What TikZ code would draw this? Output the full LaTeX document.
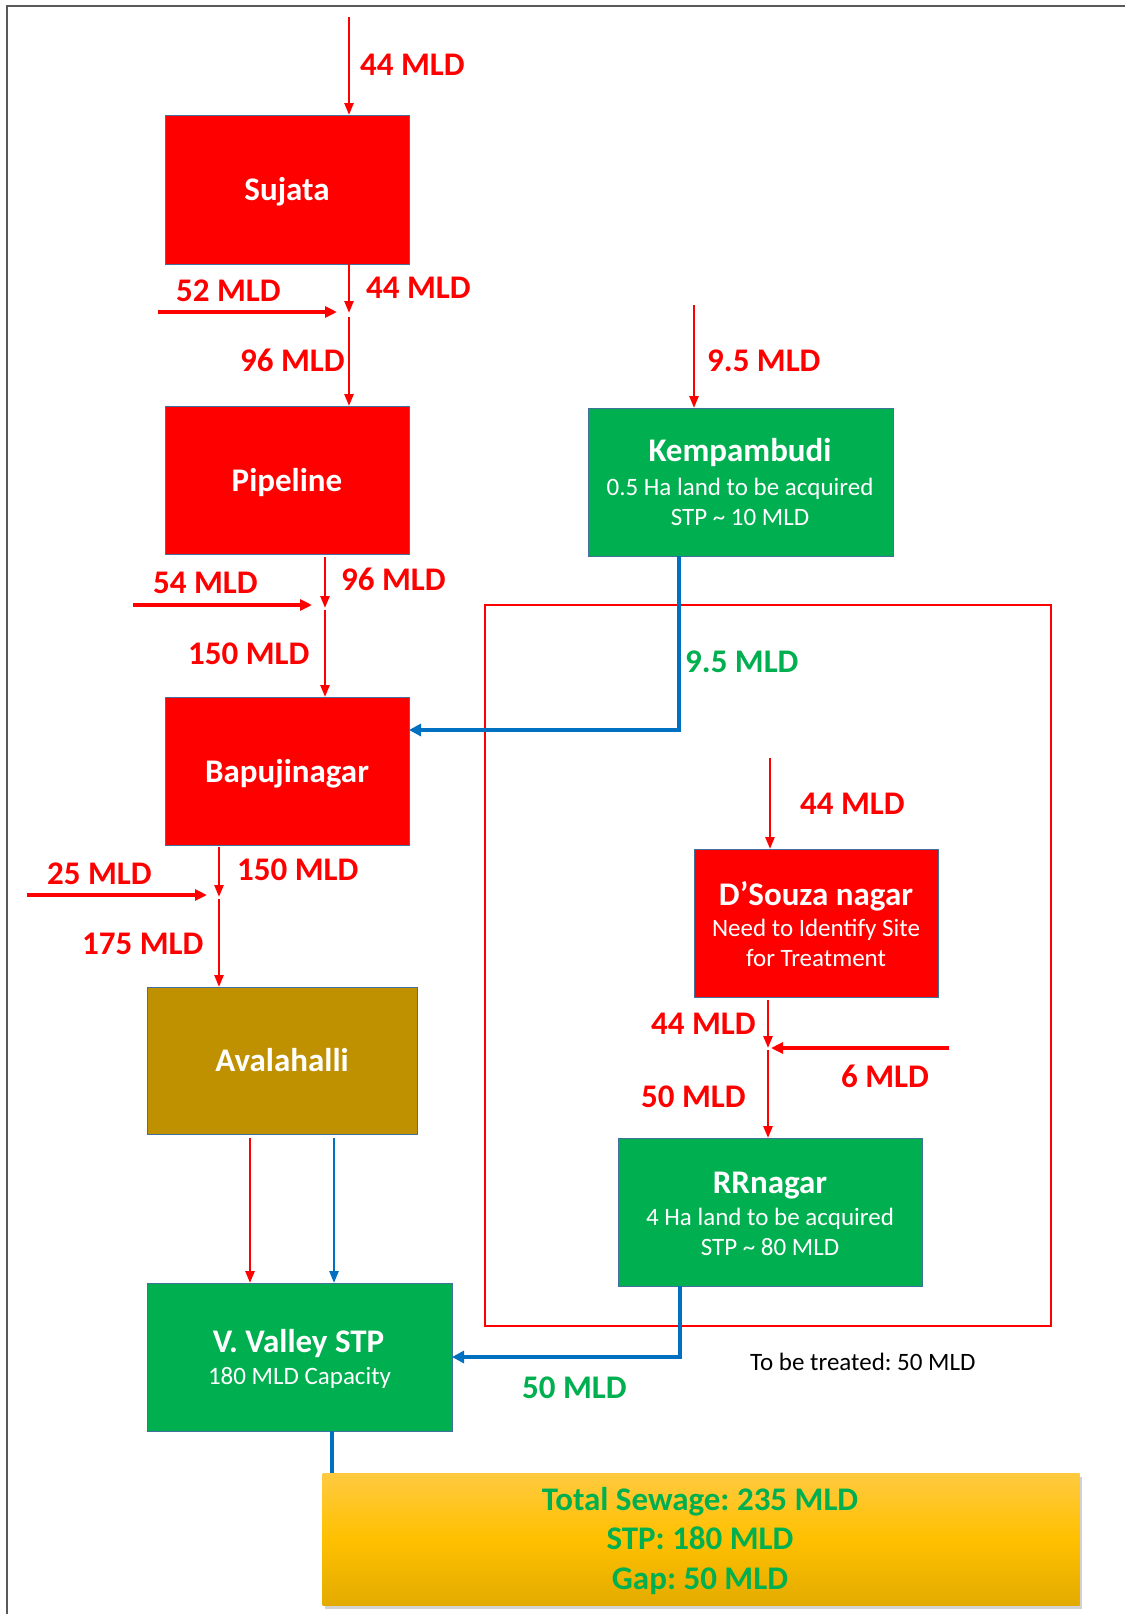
\documentclass[tikz,border=0pt]{standalone}
\usepackage{fontspec}
\setmainfont{Carlito}
\usetikzlibrary{arrows.meta,shadows}
\definecolor{flowred}{HTML}{FF0000}
\definecolor{stpgreen}{HTML}{00B050}
\definecolor{pipeblue}{HTML}{0070C0}
\definecolor{goldbox}{HTML}{BF9000}
\definecolor{boxedge}{HTML}{41719C}
\definecolor{framegray}{HTML}{595959}
\definecolor{sumtop}{HTML}{FFCA40}
\definecolor{summid}{HTML}{FFC000}
\definecolor{sumbot}{HTML}{E3AB00}
\frenchspacing
\begin{document}
\begin{tikzpicture}[x=1pt,y=-1pt,
  box/.style={draw=boxedge, line width=1pt, inner sep=0pt, outer sep=0pt},
  title/.style={font=\fontsize{33}{39}\selectfont\bfseries, text=white, anchor=base, inner sep=0pt},
  sub/.style={font=\fontsize{25}{30}\selectfont, text=white, anchor=base, inner sep=0pt},
  flow/.style={font=\fontsize{33}{39}\selectfont\bfseries, text=flowred, anchor=base west, inner sep=0pt},
  gflow/.style={flow, text=stpgreen},
  note/.style={font=\fontsize{25}{30}\selectfont, text=black, anchor=base west, inner sep=0pt},
  sumtext/.style={font=\fontsize{33}{39}\selectfont\bfseries, text=stpgreen, anchor=base, inner sep=0pt},
  feed/.style={draw=flowred, line width=2.5pt, -{Triangle[length=12pt,width=9pt]}},
  side/.style={draw=flowred, line width=4pt, -{Triangle[length=12pt,width=11pt]}},
  treated/.style={draw=pipeblue, line width=4pt, -{Triangle[length=12pt,width=12pt]}},
  plainpipe/.style={draw=pipeblue, line width=4pt}
]
% page and frame
\useasboundingbox (0,0) rectangle (1125,1614);
\fill[white] (0,0) rectangle (1125,1614);
\draw[framegray, line width=1.5pt] (7,1614) -- (7,6) -- (1125,6);

% treatment zone
\draw[flowred, line width=1.2pt] (485,605) rectangle (1051,1326);

% boxes
\node[box, fill=flowred, minimum width=244pt, minimum height=149pt] (sujata) at (287,189.5) {};
\node[box, fill=flowred, minimum width=244pt, minimum height=148pt] (pipeline) at (287,480) {};
\node[box, fill=flowred, minimum width=244pt, minimum height=148pt] (bapujinagar) at (287,771) {};
\node[box, fill=goldbox, minimum width=270pt, minimum height=147pt] (avalahalli) at (282,1060.5) {};
\node[box, fill=stpgreen, minimum width=305pt, minimum height=148pt] (vvalley) at (299.5,1357) {};
\node[box, fill=stpgreen, minimum width=305pt, minimum height=148pt] (kempambudi) at (740.5,482) {};
\node[box, fill=flowred, minimum width=244pt, minimum height=148pt] (dsouza) at (816,923) {};
\node[box, fill=stpgreen, minimum width=304pt, minimum height=148pt] (rrnagar) at (770,1212) {};
\node[draw=none, top color=sumtop, bottom color=sumbot, middle color=summid,
      drop shadow={shadow xshift=2pt, shadow yshift=-4pt, opacity=0.35},
      minimum width=757pt, minimum height=132pt, inner sep=0pt] (summary) at (701,1539) {};

% box texts
\node[title] (tsujata) at (287,200) {Sujata};
\node[title] (tpipeline) at (287,491) {Pipeline};
\node[title] (tbapu) at (287,782) {Bapujinagar};
\node[title] (taval) at (282,1071.5) {Avalahalli};
\node[title] (tkemp) at (740,461.5) {Kempambudi};
\node[sub] (tkemp1) at (740,495) {0.5 Ha land to be acquired};
\node[sub] (tkemp2) at (740,525) {STP \textasciitilde{} 10 MLD};
\node[title] (tdsouza) at (816,905) {D’Souza nagar};
\node[sub] (tdsouza1) at (816,936.5) {Need to Identify Site};
\node[sub] (tdsouza2) at (816,966.5) {for Treatment};
\node[title] (trr) at (770,1193) {RRnagar};
\node[sub] (trr1) at (770,1225) {4 Ha land to be acquired};
\node[sub] (trr2) at (770,1255) {STP \textasciitilde{} 80 MLD};
\node[title] (tvv) at (298.5,1352.5) {V. Valley STP};
\node[sub] (tvv1) at (299.5,1384) {180 MLD Capacity};
\node[sumtext] (tsum1) at (700,1510) {Total Sewage: 235 MLD};
\node[sumtext] (tsum2) at (700,1549) {STP: 180 MLD};
\node[sumtext] (tsum3) at (700,1589) {Gap: 50 MLD};

% left trunk: Sujata -> Pipeline -> Bapujinagar -> Avalahalli
\coordinate (src1) at (349,17);
\draw[feed] (src1) -- (src1 |- sujata.north);
\coordinate (j1) at (349,313);
\coordinate (j1b) at (349,317);
\draw[feed] (sujata.south -| j1) -- (j1);
\coordinate (s52a) at (158,312);
\coordinate (s52b) at (337,312);
\draw[side] (s52a) -- (s52b);
\draw[feed] (j1b) -- (j1b |- pipeline.north);

\coordinate (p0) at (325,557);
\coordinate (j2) at (325,608);
\coordinate (j2b) at (325,610);
\draw[feed] (p0) -- (j2);
\coordinate (s54a) at (133,605);
\coordinate (s54b) at (312,605);
\draw[side] (s54a) -- (s54b);
\draw[feed] (j2b) -- (j2b |- bapujinagar.north);

\coordinate (b0) at (219,847);
\coordinate (j3) at (219,897);
\coordinate (j3b) at (219,899);
\draw[feed] (b0) -- (j3);
\coordinate (s25a) at (27,895);
\coordinate (s25b) at (207,895);
\draw[side] (s25a) -- (s25b);
\draw[feed] (j3b) -- (j3b |- avalahalli.north);

\coordinate (ar) at (250,1138);
\coordinate (ab) at (334,1138);
\draw[feed] (ar) -- (ar |- vvalley.north);
\draw[draw=pipeblue, line width=2.5pt, -{Triangle[length=12pt,width=9pt]}] (ab) -- (ab |- vvalley.north);

% Kempambudi
\coordinate (src2) at (694,305);
\draw[feed] (src2) -- (src2 |- kempambudi.north);
\coordinate (kb) at (679,730);
\draw[treated] (kempambudi.south -| kb) -- (kb) -- (kb -| bapujinagar.east);

% D'Souza nagar -> RRnagar
\coordinate (src3) at (770,758);
\draw[feed] (src3) -- (src3 |- dsouza.north);
\coordinate (d0) at (768,1000);
\coordinate (j4) at (768,1048);
\coordinate (j4b) at (768,1050);
\draw[feed] (d0) -- (j4);
\coordinate (s6a) at (949,1048);
\coordinate (s6b) at (771,1048);
\draw[side] (s6a) -- (s6b);
\draw[feed] (j4b) -- (j4b |- rrnagar.north);
\coordinate (rb) at (680,1357);
\draw[treated] (rrnagar.south -| rb) -- (rb) -- (rb -| vvalley.east);

% V. Valley to summary
\coordinate (vb) at (332,1431);
\draw[plainpipe] (vvalley.south -| vb) -- (vb |- summary.north);

% flow labels
\node[flow] (l1) at (360,75) {44 MLD};
\node[flow] (l2) at (366,298) {44 MLD};
\node[flow] (l3) at (176,301.5) {52 MLD};
\node[flow] (l4) at (240,371.5) {96 MLD};
\node[flow] (l5) at (707,371.5) {9.5 MLD};
\node[flow] (l6) at (341,590) {96 MLD};
\node[flow] (l7) at (153,593) {54 MLD};
\node[flow] (l8) at (188,664) {150 MLD};
\node[gflow] (l9) at (685,672.5) {9.5 MLD};
\node[flow] (l10) at (237,880) {150 MLD};
\node[flow] (l11) at (47,884) {25 MLD};
\node[flow] (l12) at (82,954) {175 MLD};
\node[flow] (l13) at (800,814) {44 MLD};
\node[flow] (l14) at (651,1034) {44 MLD};
\node[flow] (l15) at (841,1087) {6 MLD};
\node[flow] (l16) at (641,1107) {50 MLD};
\node[gflow] (l17) at (522,1398) {50 MLD};
\node[note] (l18) at (750,1370) {To be treated: 50 MLD};
\end{tikzpicture}
\end{document}
